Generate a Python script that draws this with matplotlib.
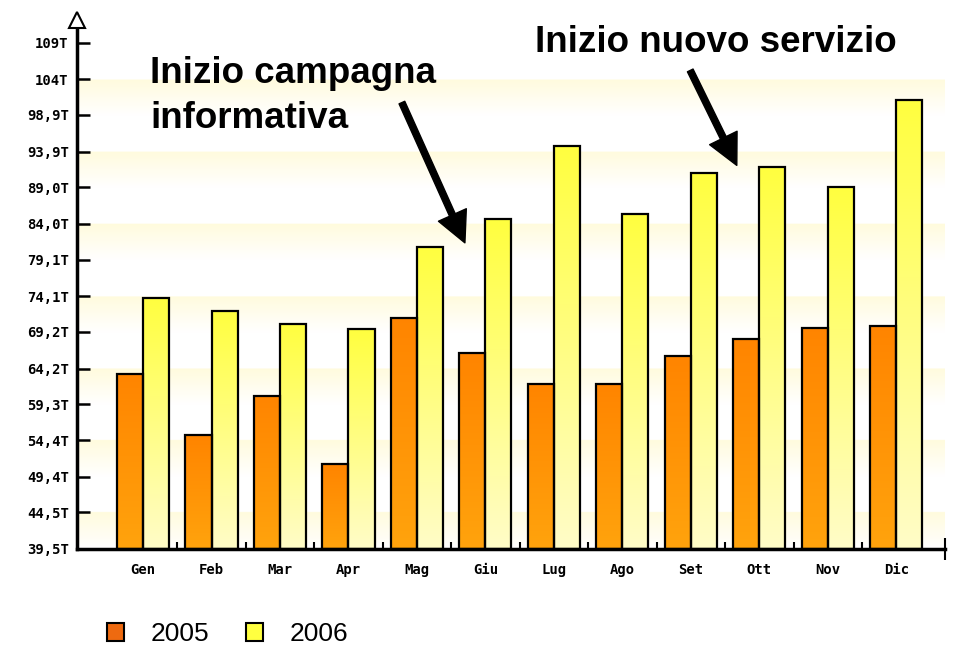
import numpy as np
import matplotlib
matplotlib.use("Agg")
import matplotlib.pyplot as plt
from matplotlib.patches import Patch

# ---- data ----
months = ["Gen", "Feb", "Mar", "Apr", "Mag", "Giu", "Lug", "Ago", "Set", "Ott", "Nov", "Dic"]
v2005 = [63.5, 55.1, 60.5, 51.1, 71.1, 66.3, 62.1, 62.1, 65.9, 68.3, 69.8, 70.0]
v2006 = [73.9, 72.1, 70.3, 69.6, 80.9, 84.6, 94.7, 85.4, 91.0, 91.8, 89.1, 100.9]
ytick_vals = [39.5, 44.5, 49.4, 54.4, 59.3, 64.2, 69.2, 74.1, 79.1, 84.0, 89.0, 93.9, 98.9, 103.8, 108.8]
ytick_labels = ["39,5T", "44,5T", "49,4T", "54,4T", "59,3T", "64,2T", "69,2T", "74,1T",
                "79,1T", "84,0T", "89,0T", "93,9T", "98,9T", "104T", "109T"]
series_labels = ["2005", "2006"]
note1 = "Inizio campagna\ninformativa"
note2 = "Inizio nuovo servizio"

BASE = 39.5
YLIM = (39.5, 111.9)
XLIM = (-0.964, 11.71)
W = 0.38

fig = plt.figure(figsize=(9.55, 6.48), dpi=100)
ax = fig.add_axes([77 / 955, 1 - 549 / 648, 868 / 955, 529 / 648])

# background bands (fading pale yellow)
ys = np.linspace(YLIM[0], YLIM[1], 800)
inten = np.zeros_like(ys)
for i in range(len(ytick_vals) - 2, 0, -2):
    top = ytick_vals[i]
    low = ytick_vals[i - 1]
    m = (ys <= top) & (ys > low)
    inten[m] = (ys[m] - low) / (top - low)
yel = np.array([1.0, 0.975, 0.78])
wht = np.array([1.0, 1.0, 1.0])
a = 0.6 * inten[:, None]
bg = (1 - a) * wht + a * yel
ax.imshow(bg[::-1][:, None, :], extent=[XLIM[0], XLIM[1], YLIM[0], YLIM[1]],
          aspect="auto", zorder=0, interpolation="bilinear")

x = np.arange(len(months))
b1 = ax.bar(x - W / 2, np.array(v2005) - BASE, W, bottom=BASE, facecolor="none",
            edgecolor="black", linewidth=1.6, zorder=3)
b2 = ax.bar(x + W / 2, np.array(v2006) - BASE, W, bottom=BASE, facecolor="none",
            edgecolor="black", linewidth=1.6, zorder=3)


def fill_gradient(bar, top_rgb, bot_rgb):
    x0, y0 = bar.get_x(), bar.get_y()
    w, h = bar.get_width(), bar.get_height()
    t = np.linspace(0, 1, 64)[:, None]
    col = (1 - t) * np.array(top_rgb) + t * np.array(bot_rgb)
    im = ax.imshow(col[:, None, :], extent=[x0, x0 + w, y0, y0 + h], aspect="auto",
                   origin="upper", zorder=2, interpolation="bilinear")
    im.set_clip_path(bar)


for bar in b1:
    fill_gradient(bar, (1.0, 0.52, 0.0), (1.0, 0.64, 0.05))
for bar in b2:
    fill_gradient(bar, (1.0, 1.0, 0.25), (1.0, 0.99, 0.78))

ax.set_xlim(*XLIM)
ax.set_ylim(*YLIM)

for s in ["top", "right"]:
    ax.spines[s].set_visible(False)
for s in ["left", "bottom"]:
    ax.spines[s].set_linewidth(2.5)
    ax.spines[s].set_zorder(5)

ax.set_yticks(ytick_vals)
ax.set_yticklabels(ytick_labels, fontfamily="DejaVu Sans Mono", fontweight="bold", fontsize=10)
ax.tick_params(axis="y", direction="in", length=9, width=1.8, pad=6)
ax.set_xticks(x)
ax.set_xticklabels(months, fontfamily="DejaVu Sans Mono", fontweight="bold", fontsize=10)
ax.tick_params(axis="x", which="major", length=0, pad=10)
ax.set_xticks(x[:-1] + 0.5, minor=True)
ax.tick_params(axis="x", which="minor", direction="in", length=5, width=1.5)

# axis end marks
ax.plot([0], [1.0], marker="^", markersize=11, markerfacecolor="white",
        markeredgecolor="black", markeredgewidth=1.5, transform=ax.transAxes,
        clip_on=False, zorder=6)
ax.plot([1.0], [0], marker="|", markersize=16, color="black", markeredgewidth=1.5,
        transform=ax.transAxes, clip_on=False, zorder=6)

# annotations
ax.annotate("", xy=(4.70, 81.4), xytext=(3.78, 100.6),
            arrowprops=dict(width=4.5, headwidth=22, headlength=22, color="black"), zorder=7)
ax.annotate("", xy=(8.67, 92.0), xytext=(7.99, 105.0),
            arrowprops=dict(width=4.5, headwidth=22, headlength=22, color="black"), zorder=7)
fig.text(150 / 955, 1 - 128 / 648, note1, fontfamily="Liberation Sans", fontweight="bold",
         fontsize=26.5, va="baseline", ha="left", linespacing=1.37)
fig.text(535 / 955, 1 - 52 / 648, note2, fontfamily="Liberation Sans", fontweight="bold",
         fontsize=26.5, va="baseline", ha="left")

handles = [Patch(facecolor="#EE6A10", edgecolor="black", linewidth=1.5),
           Patch(facecolor="#FFFF40", edgecolor="black", linewidth=1.5)]
fig.legend(handles, series_labels, loc="center left", bbox_to_anchor=(107 / 955, 1 - 634 / 648),
           frameon=False, ncol=2, prop={"family": "Liberation Sans", "size": 19},
           handlelength=0.65, handleheight=0.65, handletextpad=1.0, columnspacing=1.4,
           borderpad=0, borderaxespad=0)

fig.savefig("out.png", dpi=100)
